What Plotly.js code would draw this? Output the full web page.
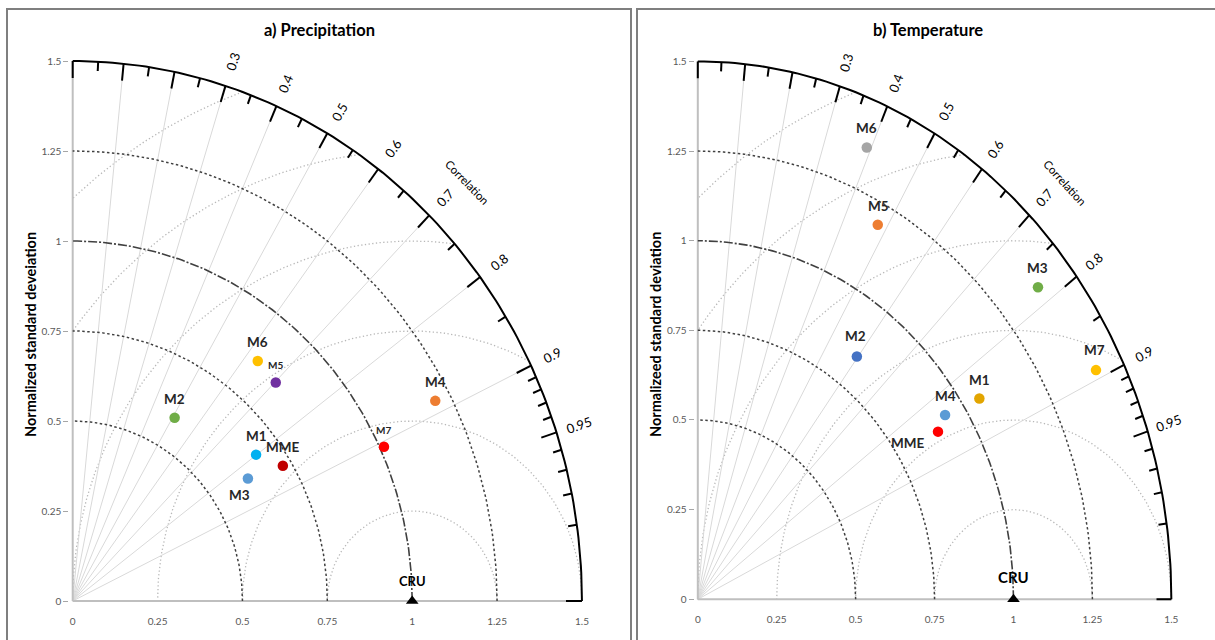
<!DOCTYPE html>
<html>
<head>
<meta charset="utf-8">
<script src="https://cdn.plot.ly/plotly-3.0.1.min.js"></script>
<style>
html,body{margin:0;padding:0;background:#ffffff;}
#chart{width:1215px;height:640px;}
</style>
</head>
<body>
<div id="chart"></div>
<script>
// ---------------- data ----------------
const models     = ['M1', 'M2', 'M3', 'M4', 'M5', 'M6', 'M7', 'MME'];
// a) Precipitation : normalized standard deviation and correlation
const precipStd  = [0.676, 0.591, 0.618, 1.204, 0.852, 0.861, 1.012, 0.724];
const precipCorr = [0.799, 0.508, 0.835, 0.887, 0.702, 0.633, 0.906, 0.855];
// b) Temperature
const tempStd    = [1.053, 0.844, 1.385, 0.937, 1.190, 1.369, 1.414, 0.893];
const tempCorr   = [0.847, 0.597, 0.778, 0.836, 0.479, 0.391, 0.892, 0.852];
// reference
const refName = 'CRU';
const refStd  = 1;
const refCorr = 1;
// axes / grid values
const stdTicks   = [0, 0.25, 0.5, 0.75, 1, 1.25, 1.5];
const stdMax     = 1.5;
const corrLabels = [0.3, 0.4, 0.5, 0.6, 0.7, 0.8, 0.9, 0.95];
const corrMajor  = [0, 0.1, 0.2, 0.3, 0.4, 0.5, 0.6, 0.7, 0.8, 0.9, 0.95, 1];
const corrMinor  = [0.05, 0.15, 0.25, 0.35, 0.45, 0.55, 0.65, 0.75, 0.85,
                    0.91, 0.92, 0.93, 0.94, 0.96, 0.97, 0.98, 0.99];
const corrRays   = [0.1, 0.2, 0.3, 0.4, 0.5, 0.6, 0.7, 0.8, 0.9];
const rmsRadii   = [0.25, 0.5, 0.75, 1, 1.25, 1.5];
const stdDotted  = [0.5, 0.75, 1.25];
const stdDashDot = [1];
const panelTitles = ['a) Precipitation', 'b) Temperature'];
const yTitles     = ['Normalized standard deveiation', 'Normalizeed standard deviation'];
const corrTitle   = 'Correlation';

// ---------------- styles ----------------
const FONT = 'Lato, "Open Sans", "DejaVu Sans", sans-serif';
const precipColors = ['#00B0F0', '#70AD47', '#5B9BD5', '#ED7D31', '#7030A0', '#FFC000', '#FF0000', '#C00000'];
const tempColors   = ['#E2A500', '#4472C4', '#70AD47', '#5B9BD5', '#ED7D31', '#A5A5A5', '#FFC000', '#FF0000'];
const precipShift  = [[0, 19], [0, 19], [-8, -16], [0, 19], [0, 18], [0, 19], [0, 17], [0, 19]];
const tempShift    = [[0, 19], [-1, 20], [0, 19], [0, 19], [1, 19], [0, 19], [-1, 20], [-30, -11]];
const precipLblSz  = [13.5, 13.5, 13.5, 13.5, 10, 13.5, 10, 13.5];
const tempLblSz    = [13.5, 13.5, 13.5, 13.5, 13.5, 13.5, 13.5, 13.5];

const W = 1215, H = 640;
const panels = [
  {px0: 72.7, py0: 601.0, ppx: 339.5, ppy: 360.0, xr: [-0.01, 1.68], yr: [-0.01, 1.62],
   xa: 'x', ya: 'y', std: precipStd, corr: precipCorr, colors: precipColors,
   shift: precipShift, lsz: precipLblSz, refSize: 13, titleX: 319, yTitleX: 30,
   box: [7, 631]},
  {px0: 697.8, py0: 599.3, ppx: 315.7, ppy: 358.6, xr: [-0.01, 1.6], yr: [-0.01, 1.62],
   xa: 'x2', ya: 'y2', std: tempStd, corr: tempCorr, colors: tempColors,
   shift: tempShift, lsz: tempLblSz, refSize: 15, titleX: 928, yTitleX: 655,
   box: [637, 1225]}
];

const traces = [];
const annotations = [];
const shapes = [];
const layout = {
  width: W, height: H,
  margin: {l: 0, r: 0, t: 0, b: 0, pad: 0},
  paper_bgcolor: '#ffffff', plot_bgcolor: 'rgba(0,0,0,0)',
  showlegend: false, hovermode: false,
  font: {family: FONT, color: '#262626'}
};

function lineTrace(xs, ys, p, color, width, dash) {
  return {type: 'scatter', mode: 'lines', x: xs, y: ys, xaxis: p.xa, yaxis: p.ya,
          line: {color: color, width: width, dash: dash || 'solid'}, hoverinfo: 'skip'};
}

panels.forEach(function (p, k) {
  const sfx = k === 0 ? '' : '2';
  const xDom = [(p.px0 + p.xr[0] * p.ppx) / W, (p.px0 + p.xr[1] * p.ppx) / W];
  const yDom = [1 - (p.py0 - p.yr[0] * p.ppy) / H, 1 - (p.py0 - p.yr[1] * p.ppy) / H];
  layout['xaxis' + sfx] = {
    domain: xDom, range: p.xr, anchor: p.ya, showgrid: false, zeroline: false, showline: false,
    tickmode: 'array', tickvals: stdTicks, ticktext: stdTicks.map(String),
    ticks: 'outside', ticklen: 7, tickcolor: 'rgba(0,0,0,0)',
    tickfont: {family: FONT, size: 10, color: '#595959'}, fixedrange: true
  };
  layout['yaxis' + sfx] = {
    domain: yDom, range: p.yr, anchor: p.xa, showgrid: false, zeroline: false, showline: false,
    tickmode: 'array', tickvals: stdTicks, ticktext: stdTicks.map(String),
    ticks: 'outside', ticklen: 5, tickwidth: 1, tickcolor: '#A6A6A6',
    tickfont: {family: FONT, size: 10, color: '#595959'}, fixedrange: true
  };
  // y axis title (placed to match the original's offset along the axis)
  annotations.push({xref: 'paper', yref: 'paper', x: p.yTitleX / W, y: 1 - 335 / H,
    text: '<b>' + yTitles[k] + '</b>', showarrow: false, textangle: -90,
    xanchor: 'center', yanchor: 'middle',
    font: {family: FONT, size: 14.5, color: '#000000'}});

  // RMS (centred on reference) dotted grey arcs, clipped to the outer arc
  rmsRadii.forEach(function (rho) {
    const xI = (refStd * refStd + stdMax * stdMax - rho * rho) / (2 * refStd);
    let t0 = 0;
    if (xI <= stdMax) t0 = Math.acos(Math.max(-1, Math.min(1, (xI - refStd) / rho)));
    const t1 = rho >= refStd ? Math.acos(-refStd / rho) : Math.PI;
    const xs = [], ys = [];
    const n = 160;
    for (let i = 0; i <= n; i++) {
      const t = t0 + (t1 - t0) * i / n;
      xs.push(refStd + rho * Math.cos(t));
      ys.push(rho * Math.sin(t));
    }
    traces.push(lineTrace(xs, ys, p, '#B8B8B8', 1.3, '1.3px,2.4px'));
  });

  // radial correlation rays
  (function () {
    const xs = [], ys = [];
    corrRays.forEach(function (c) {
      const t = Math.acos(c);
      xs.push(0, stdMax * Math.cos(t), null);
      ys.push(0, stdMax * Math.sin(t), null);
    });
    traces.push(lineTrace(xs, ys, p, '#D9D9D9', 1));
  })();

  // axis lines (grey)
  traces.push(lineTrace([0, stdMax, null, 0, 0], [0, 0, null, 0, stdMax], p, '#BFBFBF', 2));

  // std arcs centred on origin
  function arc(r) {
    const xs = [], ys = [];
    const n = 120;
    for (let i = 0; i <= n; i++) {
      const t = (Math.PI / 2) * i / n;
      xs.push(r * Math.cos(t));
      ys.push(r * Math.sin(t));
    }
    return [xs, ys];
  }
  stdDotted.forEach(function (r) {
    const a = arc(r);
    traces.push(lineTrace(a[0], a[1], p, '#404040', 1.5, '2.5px,2.5px'));
  });
  stdDashDot.forEach(function (r) {
    const a = arc(r);
    traces.push(lineTrace(a[0], a[1], p, '#404040', 1.6, '9px,2px,2px,2px'));
  });
  (function () {
    const a = arc(stdMax);
    traces.push(lineTrace(a[0], a[1], p, '#000000', 2));
  })();

  // correlation ticks on outer arc
  function ticks(list, len) {
    const xs = [], ys = [];
    list.forEach(function (c) {
      const t = Math.acos(c);
      xs.push((stdMax - len) * Math.cos(t), stdMax * Math.cos(t), null);
      ys.push((stdMax - len) * Math.sin(t), stdMax * Math.sin(t), null);
    });
    return [xs, ys];
  }
  const tm = ticks(corrMajor, 0.047);
  traces.push(lineTrace(tm[0], tm[1], p, '#000000', 2));
  const tn = ticks(corrMinor, 0.026);
  traces.push(lineTrace(tn[0], tn[1], p, '#000000', 2));

  // correlation tick labels
  corrLabels.forEach(function (c) {
    const t = Math.acos(c);
    const vis = Math.atan2(Math.sin(t) * p.ppy, Math.cos(t) * p.ppx) * 180 / Math.PI;
    annotations.push({xref: p.xa, yref: p.ya, x: 1.57 * Math.cos(t), y: 1.57 * Math.sin(t),
      text: String(c), showarrow: false, textangle: -vis, xanchor: 'center', yanchor: 'middle',
      font: {family: FONT, size: 13, color: '#000000'}});
  });
  (function () {
    const t = Math.PI / 4;
    const tang = Math.atan2(p.ppy * Math.cos(t), p.ppx * Math.sin(t)) * 180 / Math.PI;
    annotations.push({xref: p.xa, yref: p.ya, x: 1.645 * Math.cos(t), y: 1.645 * Math.sin(t),
      text: corrTitle, showarrow: false, textangle: tang - 1, xanchor: 'center', yanchor: 'middle',
      font: {family: FONT, size: 11.5, color: '#000000'}});
  })();

  // model points
  const px = [], py = [];
  p.std.forEach(function (s, i) {
    const t = Math.acos(p.corr[i]);
    px.push(s * Math.cos(t));
    py.push(s * Math.sin(t));
  });
  traces.push({type: 'scatter', mode: 'markers', x: px, y: py, xaxis: p.xa, yaxis: p.ya,
    text: models, cliponaxis: false, hoverinfo: 'skip',
    marker: {size: 10.5, color: p.colors, line: {width: 0}}});
  models.forEach(function (m, i) {
    annotations.push({xref: p.xa, yref: p.ya, x: px[i], y: py[i], text: '<b>' + m + '</b>',
      showarrow: false, xshift: p.shift[i][0], yshift: p.shift[i][1],
      xanchor: 'center', yanchor: 'middle',
      font: {family: FONT, size: p.lsz[i], color: '#262626'}});
  });

  // reference point
  const rt = Math.acos(refCorr);
  traces.push({type: 'scatter', mode: 'markers', x: [refStd * Math.cos(rt)], y: [refStd * Math.sin(rt)],
    xaxis: p.xa, yaxis: p.ya, cliponaxis: false, hoverinfo: 'skip',
    marker: {symbol: 'triangle-up', size: 11, color: '#000000'}});
  annotations.push({xref: p.xa, yref: p.ya, x: refStd * Math.cos(rt), y: refStd * Math.sin(rt),
    text: '<b>' + refName + '</b>', showarrow: false, yshift: k === 0 ? 20 : 22,
    xanchor: 'center', yanchor: 'middle', font: {family: FONT, size: p.refSize, color: '#000000'}});

  // panel title
  annotations.push({xref: 'paper', yref: 'paper', x: p.titleX / W, y: 1 - 30 / H,
    text: '<b>' + panelTitles[k] + '</b>', showarrow: false, xanchor: 'center', yanchor: 'middle',
    font: {family: FONT, size: 16.5, color: '#000000'}});

  // panel frame
  shapes.push({type: 'rect', xref: 'paper', yref: 'paper',
    x0: p.box[0] / W, x1: p.box[1] / W, y0: -0.05, y1: 1 - 9 / H,
    line: {color: '#7F7F7F', width: 2}, fillcolor: 'rgba(0,0,0,0)', layer: 'below'});
});

layout.annotations = annotations;
layout.shapes = shapes;

Plotly.newPlot('chart', traces, layout, {displayModeBar: false, staticPlot: true});
</script>
</body>
</html>
